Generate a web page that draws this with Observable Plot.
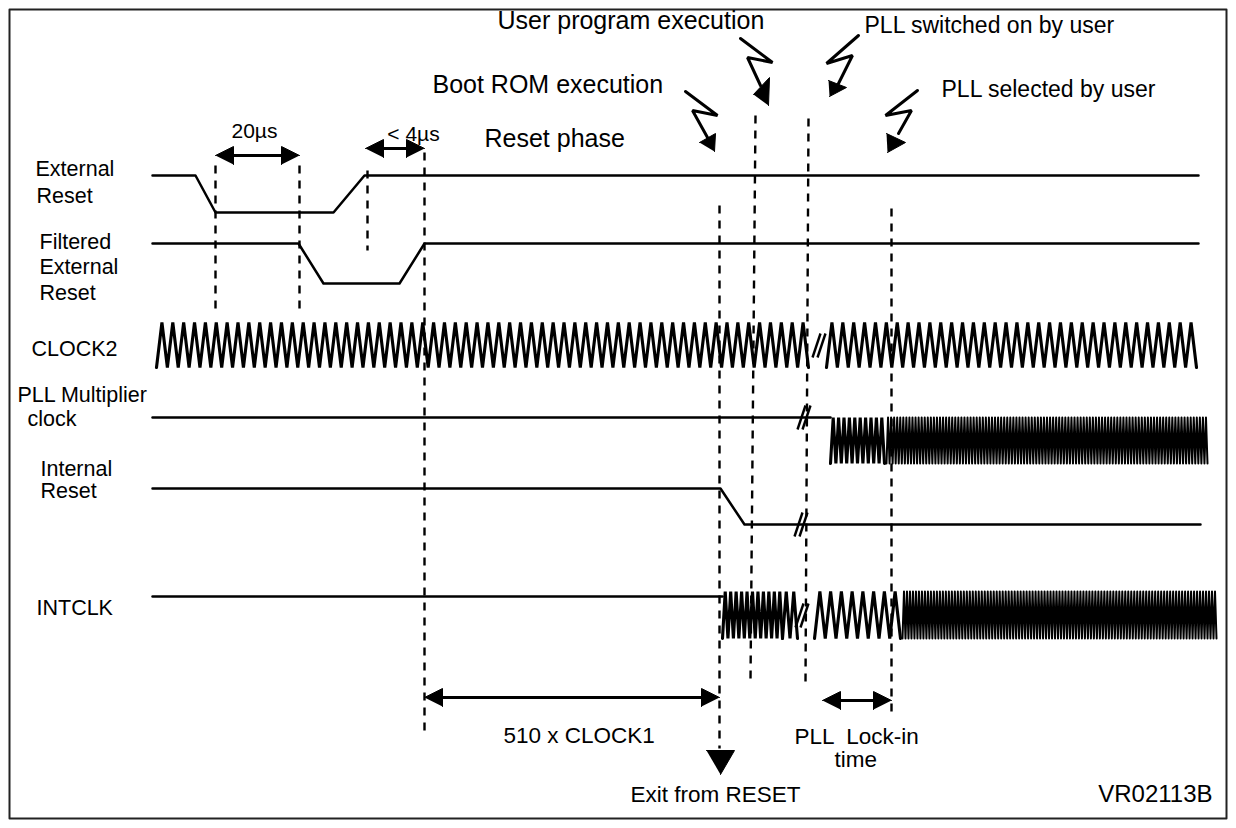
<!DOCTYPE html>
<html><head><meta charset="utf-8">
<script src="https://cdn.jsdelivr.net/npm/d3@7"></script>
<script src="https://cdn.jsdelivr.net/npm/@observablehq/plot@0.6"></script>
<style>html,body{margin:0;padding:0;background:#fff;} svg{display:block}</style>
</head><body><div id="chart"></div>
<script>
// ---- Signal waveforms: breakpoints [time, level] in diagram units ----
const extReset   = [[152,175],[195,175],[215,212],[333,212],[364,175],[1198,175]];
const filtReset  = [[152,243],[298,243],[323,283],[399,283],[424,243],[1198,243]];
const pllLine    = [[152,417],[830,417]];
const intReset   = [[152,488],[720,488],[744,524],[1200,524]];
const intclkLine = [[152,596],[722,596]];

// ---- Clock bursts: [start, end, cycles, high, low] ----
const clock2Bursts = [[156,808,60,322,367],[826,1196,34,322,367]];
const pllBursts    = [[830,884,10,417,463]];
const pllDense     = [[886,1207,105,417,463]];
const intclkBursts = [[722,782,11,591,638],[782,797,2,591,638],[814,900,8,591,638]];
const intclkDense  = [[902,1216,105,591,638]];

// ---- Break marks "//" : [x, y] ----
const breaks = [[819,345],[804,417],[801,524],[802,615]];

// ---- Dashed timing markers: [x1, y1, x2, y2] ----
const markers = [[215,165,215,315],[299,165,299,315],[367,170,367,250],[424,152,424,732],
                 [719,205,719,748],[755,115,750,680],[808,118,805,683],[891,208,891,712]];

// ---- Double-headed dimension arrows: [x1, x2, y] ----
const dimArrows = [[215,299,155],[365,424,148],[424,719,697],[822,891,700]];

// ---- Exit from RESET pointer triangle ----
const exitArrow = [[706,750],[734,750],[720,774]];

// ---- Lightning callout arrows: zigzag + head ----
const bolts = [
  {zig:[[685,91],[717,115],[692,110],[707,137]], head:[[699,142],[715,133],[714,151]]},
  {zig:[[740,38],[772,62],[747,57],[760,85]],    head:[[753,94],[769,77],[768,105]]},
  {zig:[[858,35],[826,63],[852,55],[838,83]],    head:[[828,80],[846,87],[829,96]]},
  {zig:[[917,90],[885,115],[911,110],[898,133]], head:[[886,133],[905,142],[887,152]]}
];

// ---- Labels ----
const signalLabels = [
  ["External",35,175],["Reset",36,202],
  ["Filtered",39,248],["External",39,273],["Reset",39,299],
  ["CLOCK2",31,355],
  ["PLL Multiplier",17,401],["clock",27,425],
  ["Internal",40,475],["Reset",40,497],
  ["INTCLK",36,614]
];
const phaseLabels = [
  ["User program execution",497,28,25],
  ["Boot ROM execution",432,92,25],
  ["Reset phase",484,146,25],
  ["PLL switched on by user",864,32,23],
  ["PLL selected by user",941,96,23]
];
const dimLabels = [["20µs",254,137],["< 4µs",413,140]];
const bottomLabels = [
  ["510 x CLOCK1",503,742],["PLL  Lock-in",794,743],["time",834,766],
  ["Exit from RESET",630,801]
];
const codeLabel = [["VR02113B",1212,801]];
const frame = [[9,9],[1226,9],[1226,818],[9,818],[9,9]];

// ---- build tables ----
const poly = (id, pts) => pts.map(([x,y]) => ({id, x, y}));
function clockRows(prefix, bursts){
  const rows = [];
  bursts.forEach(([x0,x1,n,hi,lo], j) => {
    const p = (x1 - x0) / n;
    for (let i = 0; i <= n; i++) {
      rows.push({id: prefix + j, x: x0 + i*p, y: lo});
      if (i < n) rows.push({id: prefix + j, x: x0 + (i+0.5)*p, y: hi});
    }
  });
  return rows;
}
const levelRows = [
  ...poly("ext", extReset), ...poly("filt", filtReset), ...poly("pll", pllLine),
  ...poly("int", intReset), ...poly("intclk", intclkLine)
];
const clockThick = [...clockRows("c2_", clock2Bursts), ...clockRows("pll_", pllBursts), ...clockRows("ic_", intclkBursts)];
const clockThin = [...clockRows("pd_", pllDense), ...clockRows("id_", intclkDense)];
const breakLinks = breaks.flatMap(([x,y]) => [
  {x1:x-7, y1:y+12, x2:x+1, y2:y-12},
  {x1:x-2, y1:y+12, x2:x+6, y2:y-12}
]);
const markerLinks = markers.map(([x1,y1,x2,y2]) => ({x1,y1,x2,y2}));
const L = 18, W = 9;
const shafts = dimArrows.map(([a,b,y]) => ({x1:a+L-2, x2:b-L+2, y1:y, y2:y}));
const heads = dimArrows.flatMap(([a,b,y], i) => [
  ...poly("hl"+i, [[a,y],[a+L,y-W],[a+L,y+W]]),
  ...poly("hr"+i, [[b,y],[b-L,y-W],[b-L,y+W]])
]);
const tris = [
  ...heads, ...poly("exit", exitArrow),
  ...bolts.flatMap((b,i) => poly("bh"+i, b.head))
];
const boltLines = bolts.flatMap((b,i) => poly("bz"+i, b.zig));
const txt = (arr, fs) => arr.map(([t,x,y,f]) => ({t, x, y, fs: f ?? fs}));

const font = "'Liberation Sans', Arial, Helvetica, sans-serif";
const chart = Plot.plot({
  width: 1236, height: 828, margin: 0,
  style: {fontFamily: font, background: "white", color: "black"},
  x: {domain: [0, 1236], range: [0, 1236], axis: null},
  y: {domain: [0, 828], range: [0, 828], axis: null},
  marks: [
    Plot.line(frame, {x: d => d[0], y: d => d[1], stroke: "#222", strokeWidth: 2}),
    Plot.link(markerLinks, {x1:"x1", y1:"y1", x2:"x2", y2:"y2", stroke:"black", strokeWidth:2.4, strokeDasharray:"8,7"}),
    Plot.line(levelRows, {x:"x", y:"y", z:"id", stroke:"black", strokeWidth:2.5, curve:"linear"}),
    Plot.line(clockThick, {x:"x", y:"y", z:"id", stroke:"black", strokeWidth:3.1, strokeLinejoin:"miter"}),
    Plot.line(clockThin, {x:"x", y:"y", z:"id", stroke:"black", strokeWidth:2}),
    Plot.link(breakLinks, {x1:"x1", y1:"y1", x2:"x2", y2:"y2", stroke:"black", strokeWidth:2.4}),
    Plot.link(shafts, {x1:"x1", y1:"y1", x2:"x2", y2:"y2", stroke:"black", strokeWidth:3}),
    Plot.line(boltLines, {x:"x", y:"y", z:"id", stroke:"black", strokeWidth:3, strokeLinejoin:"miter"}),
    Plot.line(tris, {x:"x", y:"y", z:"id", fill:"black", stroke:"black", strokeWidth:1}),
    Plot.text(txt(signalLabels, 21.5), {x:"x", y:"y", text:"t", fontSize:21.5, textAnchor:"start", lineAnchor:"bottom", fill:"black"}),
    Plot.text(txt(phaseLabels), {x:"x", y:"y", text:"t", fontSize:d=>d.fs, textAnchor:"start", lineAnchor:"bottom", fill:"black"}),
    Plot.text(txt(dimLabels, 21), {x:"x", y:"y", text:"t", fontSize:21, textAnchor:"middle", lineAnchor:"bottom", fill:"black"}),
    Plot.text(txt(bottomLabels, 22.5), {x:"x", y:"y", text:"t", fontSize:22.5, textAnchor:"start", lineAnchor:"bottom", fill:"black"}),
    Plot.text(txt(codeLabel, 24), {x:"x", y:"y", text:"t", fontSize:24, textAnchor:"end", lineAnchor:"bottom", fill:"black"})
  ]
});
document.getElementById("chart").appendChild(chart);
</script>
</body></html>
